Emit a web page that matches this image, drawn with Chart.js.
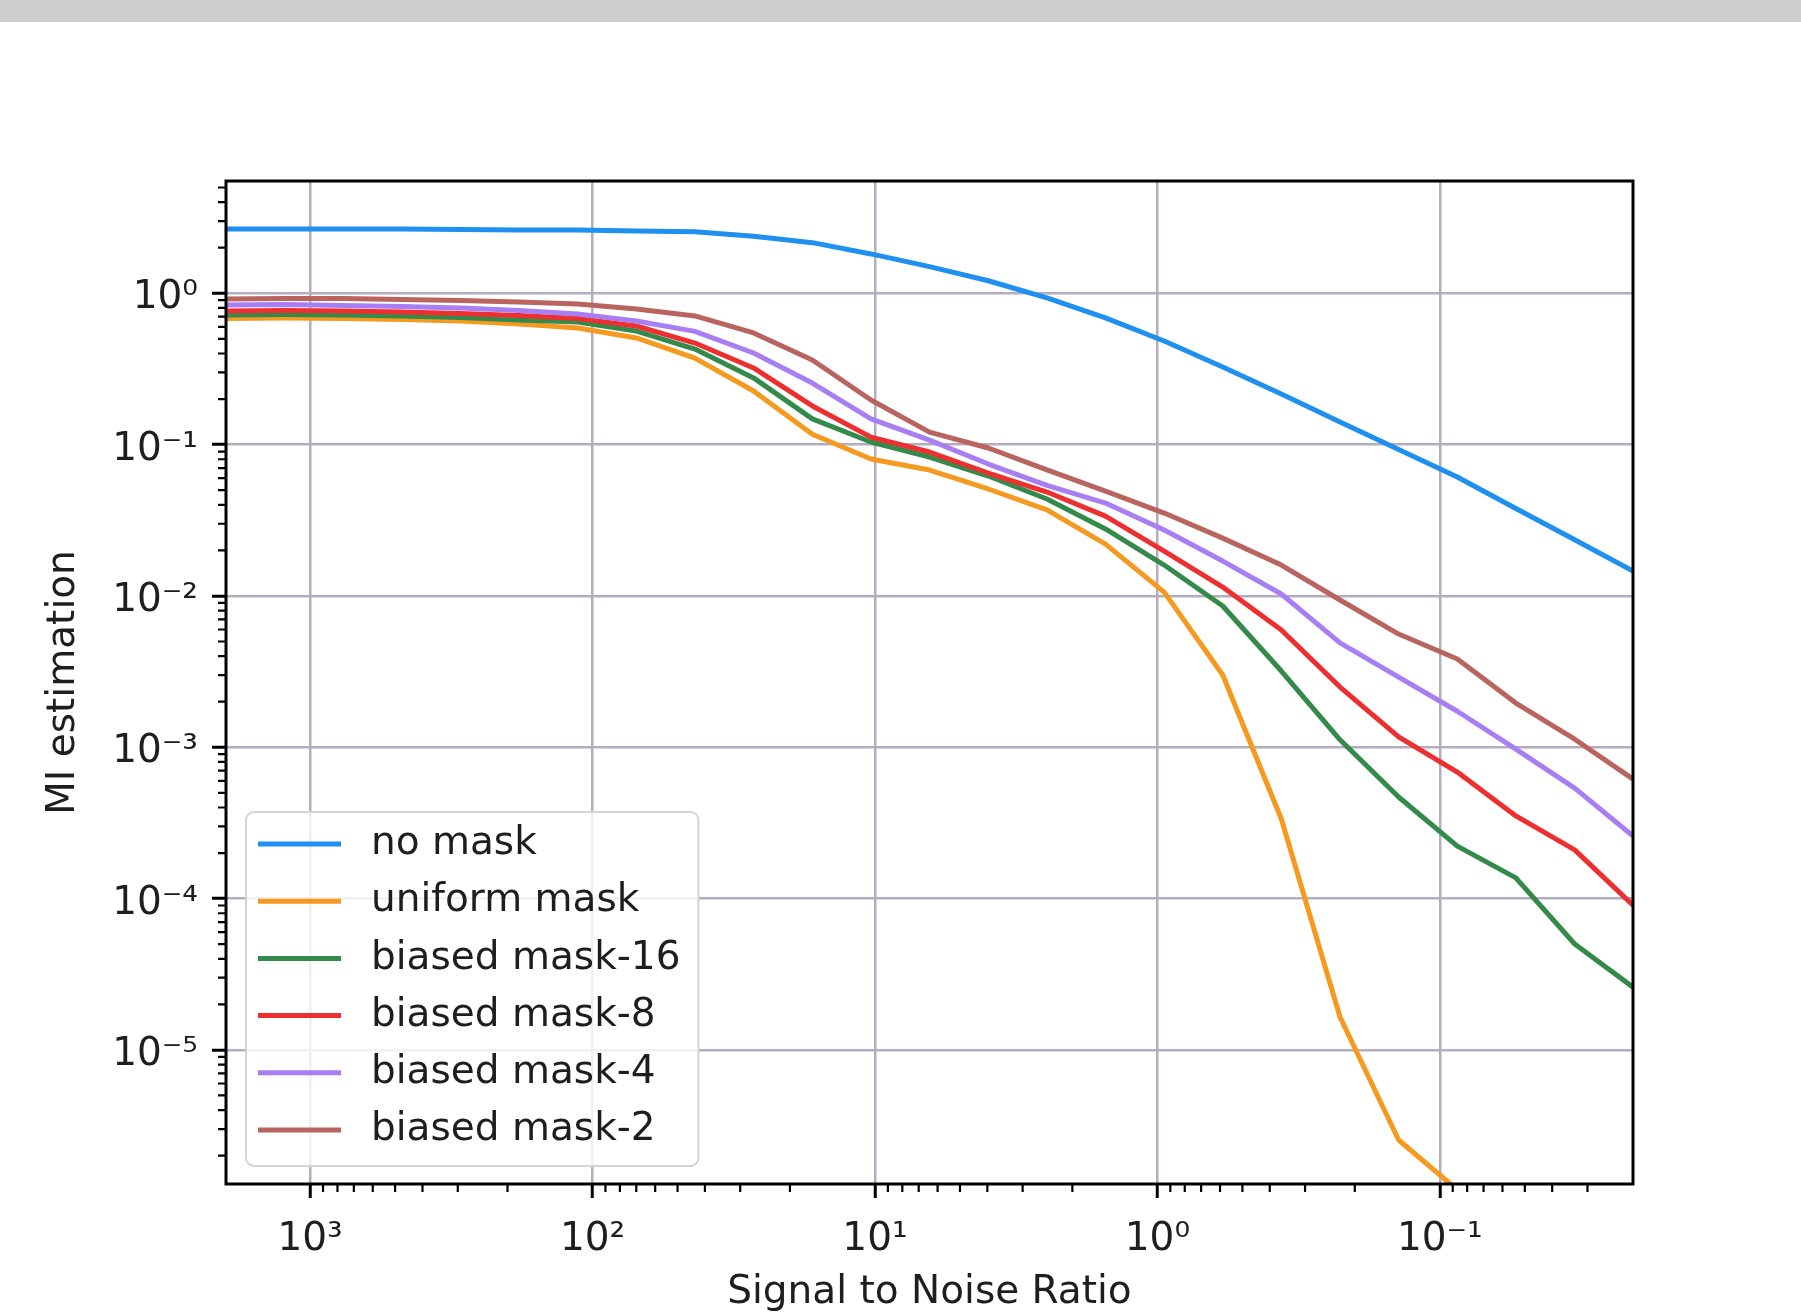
<!DOCTYPE html>
<html>
<head>
<meta charset="utf-8">
<title>MI estimation vs Signal to Noise Ratio</title>
<script src="https://cdn.jsdelivr.net/npm/chart.js@4.4.1/dist/chart.umd.min.js"></script>
<style>
  html, body { margin: 0; padding: 0; background: #fff; }
  .faixa { position: absolute; left: 0; top: 0; width: 1801px; height: 22px; background: #cfcfcf; }
  #grafico { position: absolute; left: 0; top: 0; }
</style>
</head>
<body>
<div class="faixa"></div>
<canvas id="grafico" width="1801" height="1312"></canvas>
<script>
// SNR values (x axis, decreasing to the right)
const snr = [1985, 1231, 763, 473, 293, 182, 112.7, 69.9, 43.4, 26.9, 16.66, 10.33, 6.41,
  3.97, 2.46, 1.527, 0.946, 0.587, 0.364, 0.2256, 0.1399, 0.0867, 0.0538, 0.0333, 0.0207];

// MI estimation per series
const noMask = [2.66, 2.66, 2.66, 2.66, 2.64, 2.62, 2.62, 2.58, 2.55, 2.38, 2.16, 1.82, 1.50,
  1.21, 0.931, 0.687, 0.484, 0.326, 0.216, 0.141, 0.0928, 0.0611, 0.0378, 0.0235, 0.0146];
const uniformMask = [0.681, 0.687, 0.681, 0.671, 0.656, 0.627, 0.590, 0.507, 0.373, 0.226, 0.117, 0.0803, 0.0679,
  0.0509, 0.0370, 0.0220, 0.0106, 0.0030, 0.000336, 0.0000165, 0.00000254, 0.00000119, null, null, null];
const biased16 = [0.719, 0.724, 0.719, 0.708, 0.692, 0.667, 0.646, 0.563, 0.428, 0.276, 0.148, 0.104, 0.0828,
  0.0620, 0.0437, 0.0277, 0.0160, 0.00858, 0.00319, 0.00112, 0.000469, 0.000222, 0.000137, 0.0000501, 0.0000260];
const biased8 = [0.764, 0.770, 0.764, 0.752, 0.735, 0.713, 0.681, 0.608, 0.469, 0.321, 0.180, 0.112, 0.0893,
  0.0649, 0.0486, 0.0337, 0.0198, 0.01145, 0.00595, 0.00250, 0.00117, 0.000686, 0.000352, 0.000210, 0.0000906];
const biased4 = [0.837, 0.843, 0.830, 0.818, 0.800, 0.770, 0.730, 0.656, 0.560, 0.403, 0.255, 0.148, 0.107,
  0.0744, 0.0537, 0.0411, 0.0273, 0.0170, 0.0103, 0.00489, 0.00291, 0.00173, 0.000973, 0.000537, 0.000259];
const biased2 = [0.917, 0.924, 0.924, 0.910, 0.896, 0.876, 0.850, 0.787, 0.708, 0.547, 0.362, 0.197, 0.121,
  0.095, 0.068, 0.0493, 0.0353, 0.0241, 0.0160, 0.00940, 0.00560, 0.00383, 0.00196, 0.00113, 0.000616];

const seriesLabels = ['no mask', 'uniform mask', 'biased mask-16', 'biased mask-8', 'biased mask-4', 'biased mask-2'];
const seriesValues = [noMask, uniformMask, biased16, biased8, biased4, biased2];

// axis ranges and decade ticks
const xRange = [0.0207, 1985];
const yRange = [1.3e-6, 5.52];
const xTickValues = [1000, 100, 10, 1, 0.1];
const xTickLabels = ['10³', '10²', '10¹', '10⁰', '10⁻¹'];
const yTickValues = [1, 0.1, 0.01, 0.001, 0.0001, 0.00001];
const yTickLabels = ['10⁰', '10⁻¹', '10⁻²', '10⁻³', '10⁻⁴', '10⁻⁵'];

// estilos
const cores = ['#1f8ff0', '#f5991f', '#338a4a', '#ee2f2f', '#a77ff2', '#b9645e'];
const FONTE = "'DejaVu Sans', sans-serif";
const TAM = 39;
const COR_TEXTO = '#1e1e1e';
const COR_GRADE = '#b4adbf';

// decade + minor ticks (1..9 x 10^n) inside the range
function montarTicks(min, max, majors) {
  const ticks = [];
  for (let e = Math.floor(Math.log10(min)); e <= Math.ceil(Math.log10(max)); e++) {
    for (let m = 1; m <= 9; m++) {
      const v = parseFloat((m * Math.pow(10, e)).toPrecision(6));
      if (v < min || v > max) continue;
      ticks.push({ value: v, major: majors.some(t => Math.abs(t - v) / t < 1e-6) });
    }
  }
  return ticks;
}

function rotulo(values, labels) {
  return function(value) {
    const i = values.findIndex(t => Math.abs(t - value) / t < 1e-6);
    return i >= 0 ? labels[i] : '';
  };
}

const gradeEixo = {
  color: ctx => ctx.tick && ctx.tick.major ? COR_GRADE : 'rgba(0,0,0,0)',
  lineWidth: 2.5,
  drawTicks: true,
  tickLength: 14,
  tickWidth: 3,
  tickColor: ctx => ctx.tick && ctx.tick.major ? '#000' : 'rgba(0,0,0,0)'
};

// moldura do gráfico (spines)
const moldura = {
  id: 'moldura',
  afterDatasetsDraw(chart) {
    const { ctx, chartArea: a } = chart;
    ctx.save();
    ctx.strokeStyle = '#000';
    ctx.lineWidth = 3;
    ctx.strokeRect(a.left, a.top, a.right - a.left, a.bottom - a.top);
    ctx.restore();
  }
};

// minor tick marks
const marcasMenores = {
  id: 'marcasMenores',
  afterDraw(chart) {
    const { ctx, chartArea: a } = chart;
    ctx.save();
    ctx.strokeStyle = '#000';
    ctx.lineWidth = 2.2;
    ctx.beginPath();
    chart.scales.x.ticks.filter(t => !t.major).forEach(t => {
      const px = chart.scales.x.getPixelForValue(t.value);
      ctx.moveTo(px, a.bottom);
      ctx.lineTo(px, a.bottom + 8);
    });
    chart.scales.y.ticks.filter(t => !t.major).forEach(t => {
      const py = chart.scales.y.getPixelForValue(t.value);
      ctx.moveTo(a.left, py);
      ctx.lineTo(a.left - 8, py);
    });
    ctx.stroke();
    ctx.restore();
  }
};

// legenda no canto inferior esquerdo
const legenda = {
  id: 'legenda',
  afterDraw(chart) {
    const { ctx, chartArea: a } = chart;
    const ds = chart.data.datasets;
    ctx.save();
    ctx.font = TAM + 'px ' + FONTE;
    const larg = Math.max(...ds.map(d => ctx.measureText(d.label).width));
    const w = 125 + larg + 18;
    const h = 354;
    const x0 = a.left + 20;
    const y0 = a.bottom - 18 - h;
    const r = 8;
    ctx.beginPath();
    ctx.moveTo(x0 + r, y0);
    ctx.arcTo(x0 + w, y0, x0 + w, y0 + h, r);
    ctx.arcTo(x0 + w, y0 + h, x0, y0 + h, r);
    ctx.arcTo(x0, y0 + h, x0, y0, r);
    ctx.arcTo(x0, y0, x0 + w, y0, r);
    ctx.closePath();
    ctx.fillStyle = 'rgba(255,255,255,0.8)';
    ctx.fill();
    ctx.strokeStyle = '#d4d4d4';
    ctx.lineWidth = 2;
    ctx.stroke();
    ds.forEach((d, i) => {
      const yc = y0 + 32 + i * 57.2;
      ctx.beginPath();
      ctx.moveTo(x0 + 12, yc);
      ctx.lineTo(x0 + 95, yc);
      ctx.strokeStyle = d.borderColor;
      ctx.lineWidth = 5;
      ctx.stroke();
      ctx.fillStyle = COR_TEXTO;
      ctx.textAlign = 'left';
      ctx.textBaseline = 'middle';
      ctx.fillText(d.label, x0 + 125, yc);
    });
    ctx.restore();
  }
};

const ctx = document.getElementById('grafico').getContext('2d');
new Chart(ctx, {
  type: 'line',
  data: {
    datasets: seriesLabels.map((label, i) => ({
      label: label,
      data: snr.map((x, k) => ({ x: x, y: seriesValues[i][k] })),
      borderColor: cores[i],
      backgroundColor: cores[i],
      borderWidth: 5,
      pointRadius: 0,
      tension: 0,
      fill: false,
      spanGaps: false,
      clip: 0,
      borderJoinStyle: 'round',
      order: seriesLabels.length - i
    }))
  },
  options: {
    responsive: false,
    animation: false,
    devicePixelRatio: 1,
    events: [],
    layout: { padding: { top: 181, right: 168, bottom: 0, left: 0 } },
    plugins: {
      legend: { display: false },
      tooltip: { enabled: false }
    },
    scales: {
      x: {
        type: 'logarithmic',
        reverse: true,
        min: xRange[0],
        max: xRange[1],
        afterBuildTicks: scale => { scale.ticks = montarTicks(xRange[0], xRange[1], xTickValues).reverse(); },
        afterFit: scale => { scale.height = 128; },
        border: { display: false },
        grid: gradeEixo,
        ticks: {
          autoSkip: false,
          maxRotation: 0,
          minRotation: 0,
          padding: 18,
          color: COR_TEXTO,
          font: { family: FONTE, size: TAM },
          callback: rotulo(xTickValues, xTickLabels)
        },
        title: {
          display: true,
          text: 'Signal to Noise Ratio',
          color: COR_TEXTO,
          font: { family: FONTE, size: TAM, lineHeight: 1 },
          padding: { top: 0, bottom: 0 }
        }
      },
      y: {
        type: 'logarithmic',
        min: yRange[0],
        max: yRange[1],
        afterBuildTicks: scale => { scale.ticks = montarTicks(yRange[0], yRange[1], yTickValues); },
        afterFit: scale => { scale.width = 226; },
        border: { display: false },
        grid: gradeEixo,
        ticks: {
          autoSkip: false,
          padding: 14,
          labelOffset: 5,
          color: COR_TEXTO,
          font: { family: FONTE, size: TAM },
          callback: rotulo(yTickValues, yTickLabels)
        },
        title: {
          display: true,
          text: 'MI estimation',
          color: COR_TEXTO,
          font: { family: FONTE, size: TAM, lineHeight: 1 },
          padding: { top: 44, bottom: 0 }
        }
      }
    }
  },
  plugins: [moldura, marcasMenores, legenda]
});
</script>
</body>
</html>
